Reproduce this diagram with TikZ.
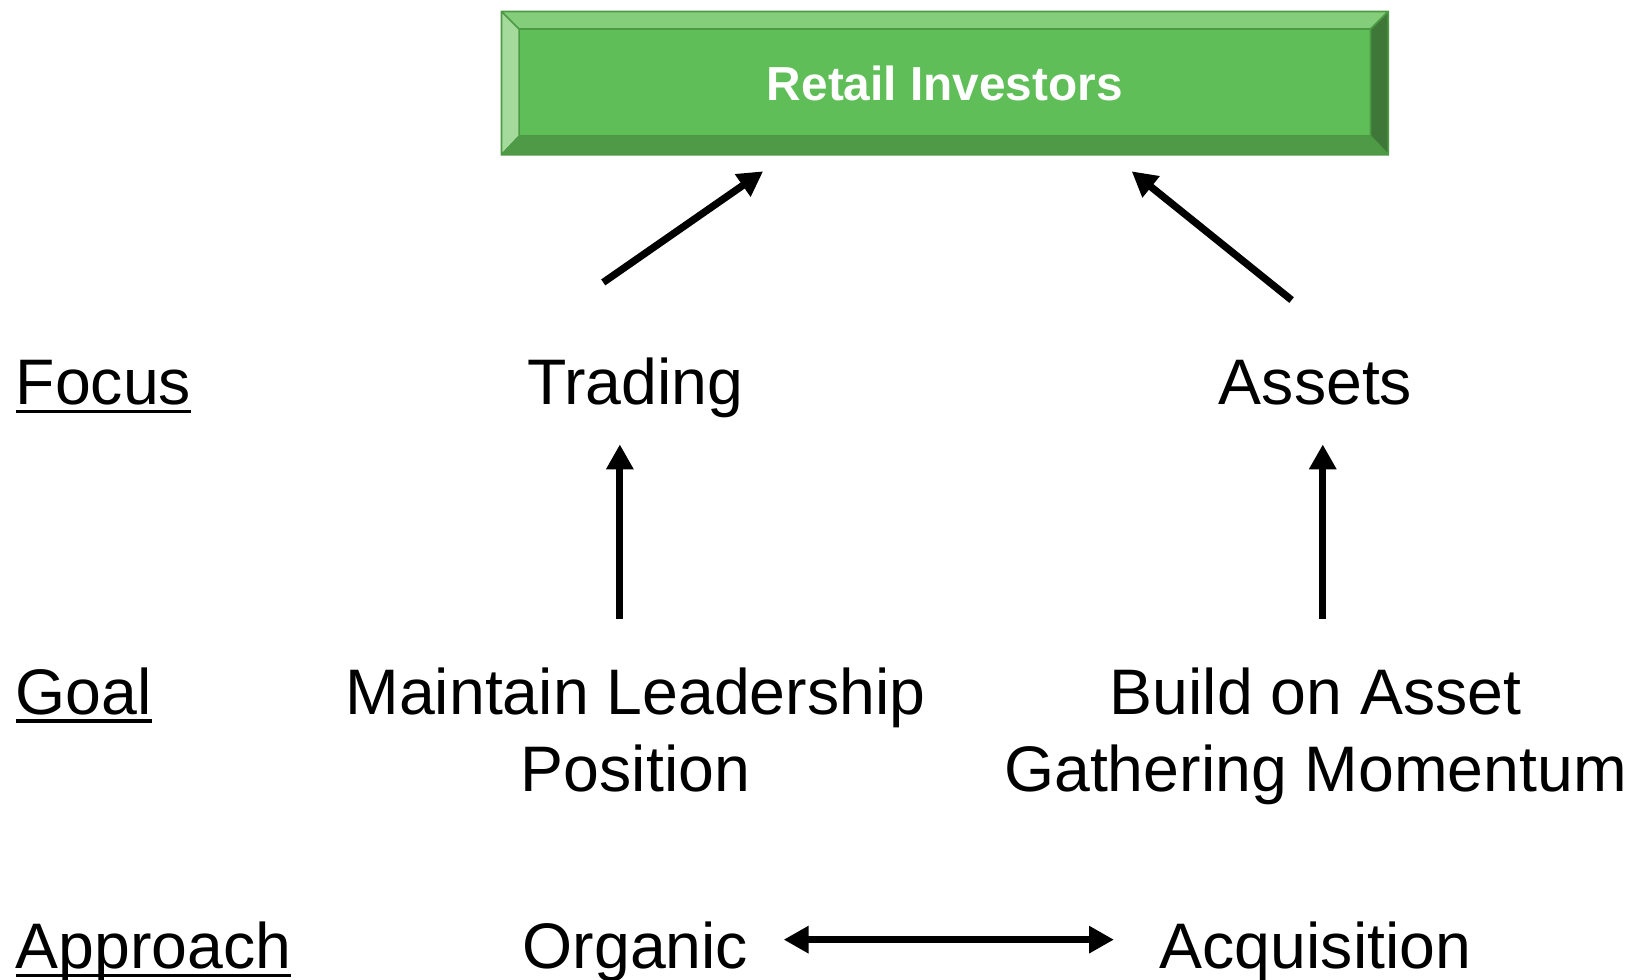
\documentclass[tikz,border=0pt]{standalone}
\usepackage{fontspec}
\setmainfont{Liberation Sans}
\usepackage{xcolor}
\usetikzlibrary{arrows.meta}
\definecolor{rfront}{HTML}{5FBE57}
\definecolor{rtop}{HTML}{83CD7B}
\definecolor{rleft}{HTML}{A4DB9C}
\definecolor{rbottom}{HTML}{4F9A46}
\definecolor{rright}{HTML}{3E7737}
\definecolor{rline}{HTML}{4C9A43}
\newcommand\ulabel[1]{\setbox0\hbox{#1}\rlap{\rule[-8pt]{\wd0}{3.2pt}}\box0}
\tikzstyle{big}=[font=\fontsize{62}{74}\selectfont,inner sep=0pt,align=center]
\tikzstyle{row}=[big,anchor=base west]
\tikzstyle{item}=[big,anchor=base]
\tikzstyle{fathead}=[>/.tip={Triangle[length=24pt,width=25pt]}]
\tikzstyle{fat}=[line width=7pt,fathead,->]
\begin{document}
\begin{tikzpicture}[x=1pt,y=-1pt]
	\useasboundingbox (0,0) rectangle (1568,943);
	% bevelled box
	\fill[rtop]    (483,11) -- (1337,11) -- (1320,28) -- (500,28) -- cycle;
	\fill[rleft]   (483,11) -- (500,28) -- (500,131) -- (483,149) -- cycle;
	\fill[rbottom] (483,149) -- (500,131) -- (1320,131) -- (1337,149) -- cycle;
	\fill[rright]  (1337,11) -- (1337,149) -- (1320,131) -- (1320,28) -- cycle;
	\fill[rfront]  (500,28) rectangle (1320,131);
	\draw[rline,line width=1.6pt] (483,11) rectangle (1337,149) (500,28) rectangle (1320,131)
		(483,11) -- (500,28) (1337,11) -- (1320,28) (483,149) -- (500,131) (1337,149) -- (1320,131);
	\node[anchor=base,inner sep=0pt,text=white,font=\fontsize{46}{50}\selectfont\bfseries] (retail) at (910,97) {Retail Investors};
	% rows
	\node[row] (focus)    at (15,390) {\ulabel{Focus}};
	\node[row] (goal)     at (15,688) {\ulabel{Goal}};
	\node[row] (approach) at (15,933) {\ulabel{Approach}};
	\node[item] (trading)  at (612,390) {Trading};
	\node[item] (assets)   at (1267,390) {Assets};
	\node[item] (maintain) at (612,762) {Maintain Leadership\\Position};
	\node[item] (build)    at (1267,762) {Build on Asset\\Gathering Momentum};
	\node[item] (organic)  at (612,933) {Organic};
	\node[item] (acquis)   at (1267,933) {Acquisition};
	% arrow ends
	\coordinate (tradeTail) at (581,272);
	\coordinate (tradeTip)  at (735,165);
	\coordinate (assetTail) at (1244,289);
	\coordinate (assetTip)  at (1090,165);
	\coordinate (maintTail) at (597,596);
	\coordinate (maintTip)  at (597,428);
	\coordinate (buildTail) at (1274,596);
	\coordinate (buildTip)  at (1274,428);
	\draw[fat] (tradeTail) -- (tradeTip);
	\draw[fat] (assetTail) -- (assetTip);
	\draw[fat] (maintTail) -- (maintTip);
	\draw[fat] (buildTail) -- (buildTip);
	\draw[fat,<->] ([xshift=34pt,yshift=28pt]organic.base east) -- ([xshift=-44pt,yshift=28pt]acquis.base west);
\end{tikzpicture}
\end{document}
